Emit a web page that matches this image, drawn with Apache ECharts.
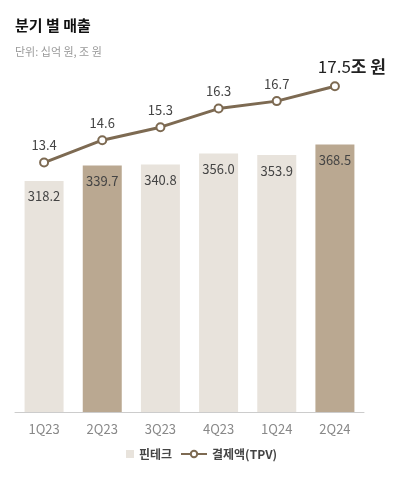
<!DOCTYPE html>
<html>
<head>
<meta charset="utf-8">
<script src="https://cdn.jsdelivr.net/npm/echarts@6/dist/echarts.min.js"></script>
<style>
  html, body { margin: 0; padding: 0; background: #fff; }
  #chart { width: 399px; height: 482px; }
</style>
</head>
<body>
<div id="chart"></div>
<script>
// 분기별 데이터
var categories = ['1Q23', '2Q23', '3Q23', '4Q23', '1Q24', '2Q24'];
var fintech = [318.2, 339.7, 340.8, 356.0, 353.9, 368.5];   // 십억 원
var tpv = [13.4, 14.6, 15.3, 16.3, 16.7, 17.5];              // 조 원

var FONT = '"Noto Sans CJK KR", "Noto Sans", sans-serif';
var dark = ['2Q23', '2Q24'];  // 진한 색 막대

var chart = echarts.init(document.getElementById('chart'));

var tpvData = tpv.map(function (v, i) {
    if (i === tpv.length - 1) {
        return {
            value: v,
            label: {
                formatter: '{a|' + v.toFixed(1) + '}{b|조 원}',
                offset: [17, 0],
                rich: {
                    a: { fontSize: 17, color: '#222', fontFamily: FONT },
                    b: { fontSize: 17, fontWeight: 'bold', color: '#222', fontFamily: FONT }
                }
            }
        };
    }
    return v;
});

var legendText = { fontSize: 12, color: '#444', fontWeight: 'bold', fontFamily: FONT };

chart.setOption({
    animation: false,
    title: {
        text: '분기 별 매출',
        subtext: '단위: 십억 원, 조 원',
        left: 10,
        top: 13,
        itemGap: 13,
        textStyle: { fontSize: 15, fontWeight: 'bold', color: '#111', fontFamily: FONT },
        subtextStyle: { fontSize: 11, color: '#999', fontFamily: FONT }
    },
    legend: [
        {
            top: 443,
            left: 121,
            itemWidth: 8,
            itemHeight: 8,
            itemGap: 0,
            textStyle: legendText,
            data: [{ name: '핀테크', icon: 'rect', itemStyle: { color: '#e8e3dc' } }]
        },
        {
            top: 443,
            left: 175,
            itemWidth: 26,
            itemHeight: 8,
            textStyle: legendText,
            data: [{ name: '결제액(TPV)' }]
        }
    ],
    grid: { left: 15, right: 35, top: 49, bottom: 70 },
    xAxis: {
        type: 'category',
        data: categories,
        axisTick: { show: false },
        axisLine: { lineStyle: { color: '#cccccc' } },
        axisLabel: { fontSize: 13, color: '#888', margin: 11, fontFamily: FONT }
    },
    yAxis: [
        { type: 'value', min: 0, max: 500, show: false, splitLine: { show: false } },
        { type: 'value', min: 0, max: 19.5, show: false, splitLine: { show: false } }
    ],
    series: [
        {
            name: '핀테크',
            type: 'bar',
            barWidth: 39,
            data: fintech,
            itemStyle: {
                color: function (p) {
                    return dark.indexOf(p.name) >= 0 ? '#baa891' : '#e8e3dc';
                }
            },
            label: {
                show: true,
                position: 'insideTop',
                distance: 9,
                fontSize: 13,
                color: '#444',
                fontFamily: FONT,
                formatter: function (p) { return p.value.toFixed(1); }
            }
        },
        {
            name: '결제액(TPV)',
            type: 'line',
            yAxisIndex: 1,
            data: tpvData,
            symbol: 'circle',
            symbolSize: 8,
            lineStyle: { color: '#7d6a52', width: 3 },
            itemStyle: { color: '#fff', borderColor: '#7d6a52', borderWidth: 2 },
            label: {
                show: true,
                position: 'top',
                distance: 6,
                fontSize: 13,
                color: '#444',
                fontFamily: FONT,
                formatter: function (p) { return p.value.toFixed(1); }
            }
        }
    ]
});
</script>
</body>
</html>
